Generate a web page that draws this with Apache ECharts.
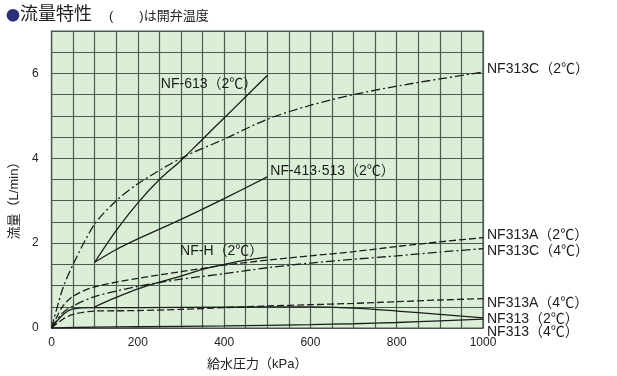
<!DOCTYPE html>
<html>
<head>
<meta charset="utf-8">
<script src="https://cdn.jsdelivr.net/npm/echarts@6/dist/echarts.min.js"></script>
<style>
  html, body { margin: 0; padding: 0; background: #fff; }
  #chart { width: 617px; height: 376px; }
</style>
</head>
<body>
<div id="chart"></div>
<script>
// 流量特性 data, [kPa, L/min]
const nf313c2 = [[0,0],[25,0.9],[50,1.5],[100,2.45],[150,3.0],[200,3.4],[300,4.0],[400,4.45],[500,4.92],[600,5.25],[700,5.5],[800,5.7],[900,5.87],[1000,6.03]];
const nf613 = [[100,1.55],[150,2.3],[200,2.95],[250,3.5],[300,3.95],[350,4.45],[400,4.95],[450,5.45],[500,5.95]];
const nf413 = [[100,1.55],[150,1.85],[200,2.1],[300,2.56],[400,3.05],[500,3.56]];
const nfH = [[100,0.5],[150,0.72],[200,0.92],[250,1.08],[300,1.22],[350,1.38],[400,1.5],[450,1.6],[500,1.67]];
const nf313a2 = [[0,0],[25,0.5],[50,0.75],[100,0.97],[200,1.17],[300,1.33],[400,1.48],[500,1.6],[600,1.7],[700,1.8],[800,1.92],[900,2.03],[1000,2.13]];
const nf313c4 = [[0,0],[25,0.35],[50,0.52],[100,0.74],[200,0.98],[300,1.15],[400,1.28],[500,1.42],[600,1.53],[700,1.62],[800,1.7],[900,1.79],[1000,1.87]];
const nf313a4 = [[0,0],[25,0.2],[50,0.32],[100,0.4],[200,0.41],[300,0.44],[400,0.48],[500,0.52],[600,0.55],[700,0.58],[800,0.62],[900,0.66],[1000,0.69]];
const nf313_2 = [[0,0],[25,0.3],[50,0.45],[100,0.48],[200,0.48],[400,0.49],[600,0.5],[700,0.47],[800,0.4],[900,0.32],[1000,0.24]];
const nf313_4 = [[0,0],[100,0.02],[200,0.03],[400,0.05],[600,0.08],[700,0.1],[800,0.13],[900,0.17],[1000,0.21]];

const FONT = "'Liberation Sans', 'Noto Sans CJK JP', sans-serif";
const DASH = [7, 3];
const DASHDOT = [9, 3, 2, 3];

function line(name, data, type, label, offset, align) {
	return {
		name: name,
		type: 'line',
		data: data,
		symbol: 'none',
		smooth: 0.3,
		lineStyle: { color: '#1c1c1c', width: 1.3, type: type },
		endLabel: {
			show: true,
			formatter: label,
			offset: offset,
			align: align || 'left',
			color: '#1c1c1c',
			fontSize: 14,
			fontFamily: FONT
		},
		z: 3
	}
}

var myChart = echarts.init(document.getElementById('chart'));
myChart.setOption({
	animation: false,
	backgroundColor: '#fff',
	title: [
		{
			text: '{dot|●}{t|流量特性}',
			left: 1,
			top: 1,
			textStyle: {
				rich: {
					dot: { color: '#2b2f7c', fontSize: 14, fontWeight: 'normal', fontFamily: "'Noto Sans CJK JP'" },
					t: { color: '#222', fontSize: 18, fontWeight: 'normal', fontFamily: FONT }
				}
			}
		},
		{
			text: '(　　)は開弁温度',
			left: 104,
			top: 5,
			textStyle: { color: '#222', fontSize: 13, fontWeight: 'normal', fontFamily: FONT }
		}
	],
	grid: {
		left: 49,
		right: 134,
		top: 31,
		bottom: 42,
		show: true,
		backgroundColor: '#dbefd7',
		borderColor: '#4a5a4e',
		borderWidth: 1.2
	},
	xAxis: {
		type: 'value',
		min: 0,
		max: 1000,
		interval: 50,
		name: '給水圧力（kPa）',
		nameLocation: 'middle',
		nameGap: 30,
		nameTextStyle: { color: '#222', fontSize: 13, fontFamily: FONT, padding: [0, 20, 0, 0] },
		axisLine: { lineStyle: { color: '#4a5a4e', width: 1.2 } },
		axisTick: { show: false },
		axisLabel: {
			color: '#222',
			fontSize: 12,
			fontFamily: FONT,
			margin: 9,
			formatter: function (v) { return v % 200 === 0 ? v : ''; }
		},
		splitLine: { show: true, lineStyle: { color: '#4a5a4e', width: 1.2 } }
	},
	yAxis: {
		type: 'value',
		min: 0,
		max: 7,
		interval: 0.5,
		name: '流量（L/min）',
		nameLocation: 'middle',
		nameGap: 29,
		nameRotate: 90,
		nameTextStyle: { color: '#222', fontSize: 13, fontFamily: FONT, padding: [0, 36, 0, 0] },
		axisLine: { lineStyle: { color: '#4a5a4e', width: 1.2 } },
		axisTick: { show: false },
		axisLabel: {
			color: '#222',
			fontSize: 12,
			fontFamily: FONT,
			margin: 13,
			formatter: function (v) { return v % 2 === 0 ? v : ''; }
		},
		splitLine: { show: true, lineStyle: { color: '#4a5a4e', width: 1.2 } }
	},
	series: [
		line('NF313C2', nf313c2, DASHDOT, 'NF313C（2℃）', [-4, -3]),
		line('NF613', nf613, 'solid', 'NF-613（2℃）', [-18, 9], 'right'),
		line('NF413', nf413, 'solid', 'NF-413·513（2℃）', [-5, -6]),
		line('NFH', nfH, 'solid', 'NF-H（2℃）', [-12, -6], 'right'),
		line('NF313A2', nf313a2, DASH, 'NF313A（2℃）', [-4, -2]),
		line('NF313C4', nf313c4, DASHDOT, 'NF313C（4℃）', [-4, 2]),
		line('NF313A4', nf313a4, DASH, 'NF313A（4℃）', [-4, 4]),
		line('NF313_2', nf313_2, 'solid', 'NF313（2℃）', [-4, 1]),
		line('NF313_4', nf313_4, 'solid', 'NF313（4℃）', [-4, 13])
	]
});
window.addEventListener('resize', function() {
	myChart.resize()
})
</script>
</body>
</html>
